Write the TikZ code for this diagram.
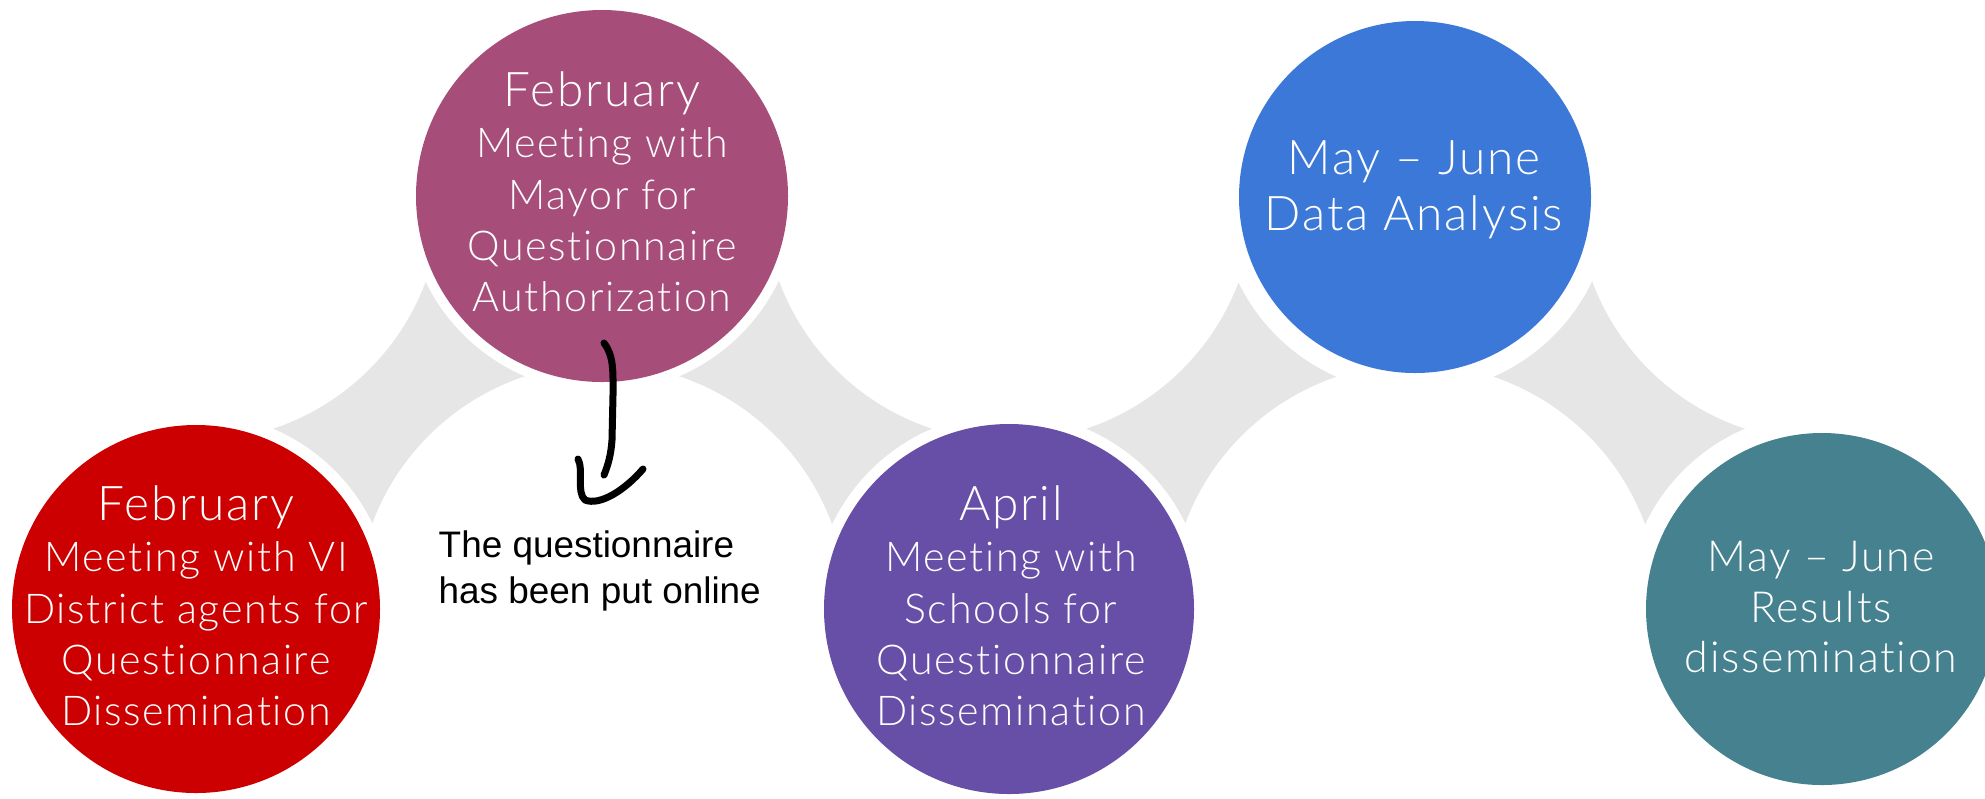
\documentclass[tikz,border=0pt]{standalone}
\usepackage{fontspec}
\usepackage{tikz}
\usepackage{xcolor}
\setmainfont{Liberation Sans}
\IfFontExistsTF{Lato Light}%
  {\newfontfamily\ralefont{Lato Light}[Ligatures={TeX,NoCommon},LetterSpace=4]}%
  {\newfontfamily\ralefont{Lato}[Ligatures={TeX,NoCommon},LetterSpace=4]}
\newcommand{\monthfont}{\ralefont\fontsize{13.6pt}{14.6pt}\selectfont}
\newcommand{\bodyfont}{\ralefont\fontsize{11.7pt}{14.6pt}\selectfont}
\newcommand{\notefont}{\fontsize{10.5pt}{13pt}\selectfont}
\definecolor{febred}{HTML}{CC0000}
\definecolor{mayorpink}{HTML}{A64D79}
\definecolor{aprilpurple}{HTML}{674EA7}
\definecolor{analysisblue}{HTML}{3C78D8}
\definecolor{resultteal}{HTML}{45818E}
\definecolor{bandgray}{HTML}{E6E6E6}

\begin{document}
\begin{tikzpicture}[x=0.1mm,y=-0.1mm,
  disctext/.style={text=white,align=center,font=\bodyfont},
  pen/.style={line width=0.7mm,line cap=round,line join=round}]
\useasboundingbox (0,0) rectangle (1985,798);
% grey band, cut by the empty places
\fill[bandgray] (196,196) rectangle (1822,609);
\fill[white] (196,196) circle (245);
\fill[white] (602,609) circle (245);
\fill[white] (1009,196) circle (245);
\fill[white] (1415,609) circle (245);
\fill[white] (1822,196) circle (245);
% February, VI District
\fill[white] (196,609) circle (196);
\fill[febred] (196,609) circle (184);
\node[disctext] (vidistrict) at (196,606) {{\monthfont February}\\Meeting with VI\\District agents for\\Questionnaire\\Dissemination};
% February, Mayor
\fill[white] (602,196) circle (196);
\fill[mayorpink] (602,196) circle (186);
\node[disctext] (mayor) at (602,192) {{\monthfont February}\\Meeting with\\Mayor for\\Questionnaire\\Authorization};
% April, Schools
\fill[white] (1009,609) circle (196);
\fill[aprilpurple] (1009,609) circle (185);
\node[disctext] (schools) at (1011,606) {{\monthfont April}\\Meeting with\\Schools for\\Questionnaire\\Dissemination};
% May - June, analysis
\fill[white] (1415,197) circle (196);
\fill[analysisblue] (1415,197) circle (176);
\node[disctext,font=\ralefont\fontsize{13.6pt}{15.9pt}\selectfont] (analysis) at (1414,190) {May – June\\Data Analysis};
% May - June, results
\fill[white] (1822,609) circle (196);
\fill[resultteal] (1822,609) circle (176);
\node[disctext,font=\ralefont\fontsize{12.2pt}{14.5pt}\selectfont] (results) at (1821,607) {May – June\\Results\\dissemination};
% hand-drawn note
\node[align=left,anchor=north west,inner sep=0pt,font=\notefont] (online) at (438,530) {The questionnaire\\has been put online};
\coordinate (tailtop) at (604,343);
\coordinate (tailend) at (604,475);
\coordinate (hooktop) at (578,459);
\coordinate (hookend) at (643,469);
\draw[pen] (tailtop) .. controls (614,356) and (613,372) .. (613,395) -- (612,440) .. controls (611,455) and (608,465) .. (tailend);
\draw[pen] (hooktop) .. controls (584,470) and (576,492) .. (585,500) .. controls (600,506) and (625,490) .. (hookend);
\end{tikzpicture}
\end{document}
